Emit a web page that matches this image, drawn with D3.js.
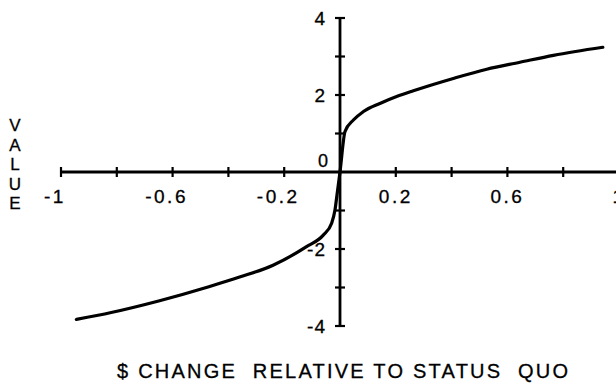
<!DOCTYPE html>
<html><head><meta charset="utf-8">
<script src="https://cdn.jsdelivr.net/npm/d3@7"></script>
<style>
html,body{margin:0;padding:0;background:#fff;}
svg{display:block;}
text{font-family:"Liberation Sans",Arial,sans-serif;fill:#000;stroke:#000;stroke-width:0.3px;}
</style></head>
<body>
<script>
// ---- data ----
const gainLossX = [-0.945, -0.82, -0.65, -0.47, -0.36, -0.24, -0.12, -0.06, -0.03, -0.018, -0.01, 0,
                   0.018, 0.048, 0.084, 0.143, 0.203, 0.263, 0.406, 0.526, 0.645, 0.765, 0.942];
const valueY    = [-3.83, -3.65, -3.35, -2.98, -2.73, -2.42, -1.94, -1.64, -1.33, -0.99, -0.55, 0,
                   1.05, 1.35, 1.57, 1.78, 1.96, 2.11, 2.43, 2.67, 2.85, 3.03, 3.24];
const xTickValues = [-1, -0.8, -0.6, -0.4, -0.2, 0.2, 0.4, 0.6, 0.8, 1];
const xTickLabels = ["-1", "-0.6", "-0.2", "0.2", "0.6", "1"];
const yTickValues = [-4, -3, -2, -1, 1, 2, 3, 4];
const yTickLabels = ["-4", "-2", "2", "4"];
const xTitle = "$ CHANGE  RELATIVE TO STATUS  QUO";
const yTitle = "VALUE";

const W = 616, H = 387;
const svg = d3.select("body").append("svg").attr("width", W).attr("height", H);

const x = d3.scaleLinear().domain([-1, 1]).range([61, 619]);
const y = d3.scaleLinear().domain([-4, 4]).range([326, 18]);

const axes = svg.append("g").attr("stroke", "#000").attr("stroke-width", 2.8);
axes.append("line").attr("x1", x(-1)).attr("x2", x(1)).attr("y1", y(0)).attr("y2", y(0));
axes.append("line").attr("x1", x(0)).attr("x2", x(0)).attr("y1", y(4)).attr("y2", y(-4));

axes.selectAll(".xt").data(xTickValues).join("line")
  .attr("x1", d => x(d)).attr("x2", d => x(d))
  .attr("y1", y(0) - 5).attr("y2", y(0) + 5).attr("stroke-width", 2.2);
axes.selectAll(".yt").data(yTickValues).join("line")
  .attr("x1", x(0) - 5).attr("x2", x(0) + 5)
  .attr("y1", d => y(d)).attr("y2", d => y(d)).attr("stroke-width", 2.2);

svg.selectAll(".xl").data(xTickLabels).join("text")
  .attr("x", d => x(+d) + (d.startsWith("-") ? -6 : 0))
  .attr("y", y(0) + 31)
  .attr("text-anchor", "middle")
  .attr("font-size", 19)
  .attr("letter-spacing", 2.5)
  .text(d => d);

svg.selectAll(".yl").data(yTickLabels).join("text")
  .attr("x", x(0) - 14)
  .attr("y", d => y(+d))
  .attr("dy", "0.36em")
  .attr("text-anchor", "end")
  .attr("font-size", 19)
  .attr("letter-spacing", 1)
  .text(d => d);

svg.append("text")
  .attr("x", x(0) - 12).attr("y", y(0) - 11)
  .attr("dy", "0.36em")
  .attr("text-anchor", "end")
  .attr("font-size", 18)
  .text("0");

const pts = gainLossX.map((v, i) => [v, valueY[i]]);
const line = d3.line().x(d => x(d[0])).y(d => y(d[1])).curve(d3.curveMonotoneX);
svg.append("path").datum(pts)
  .attr("d", line)
  .attr("fill", "none")
  .attr("stroke", "#000")
  .attr("stroke-width", 3.2)
  .attr("stroke-linejoin", "round")
  .attr("stroke-linecap", "round");

svg.selectAll(".yT").data(yTitle.split("")).join("text")
  .attr("x", 15)
  .attr("y", (d, i) => 125 + i * 19.5)
  .attr("dy", "0.36em")
  .attr("text-anchor", "middle")
  .attr("font-size", 17)
  .text(d => d);

svg.append("text")
  .attr("x", 117).attr("y", 378)
  .attr("font-size", 20)
  .attr("xml:space", "preserve")
  .style("white-space", "pre")
  .attr("textLength", 451)
  .attr("lengthAdjust", "spacing")
  .text(xTitle);
</script>
</body></html>
